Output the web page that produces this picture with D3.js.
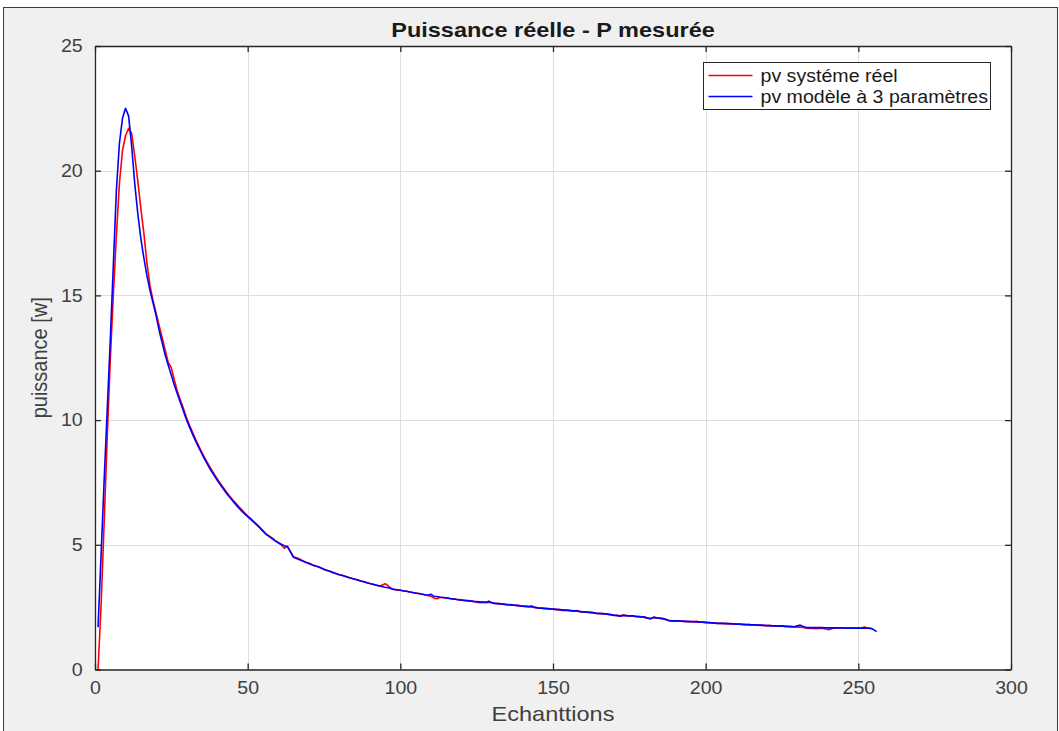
<!DOCTYPE html>
<html>
<head>
<meta charset="utf-8">
<script src="https://cdn.jsdelivr.net/npm/d3@7"></script>
<style>
  html, body { margin: 0; padding: 0; background: #ffffff; }
  svg { display: block; }
  text { font-family: "Liberation Sans", Arial, Helvetica, sans-serif; }
</style>
</head>
<body>
<svg id="chart" width="1059" height="731"></svg>
<script>
// Measured power of the PV system (red) and the 3-parameter model (blue), one value per sample.
const reelValues = [
  0, 2.6, 5.9, 9.3, 12.4, 15.0, 17.4, 19.5, 20.8, 21.4,
  21.7, 21.5, 20.6, 19.6, 18.5, 17.5, 16.3, 15.4, 14.8, 14.3,
  13.8, 13.3, 12.8, 12.3, 12.1, 11.6, 11.15, 10.8, 10.45, 10.08,
  9.78, 9.5, 9.22, 8.96, 8.71, 8.47, 8.25, 8.04, 7.84, 7.65,
  7.47, 7.3, 7.13, 6.97, 6.82, 6.68, 6.54, 6.41, 6.28, 6.16,
  6.05, 5.93, 5.82, 5.7, 5.57, 5.44, 5.36, 5.28, 5.18, 5.1,
  5.0, 4.86, 4.95, 4.74, 4.52, 4.48, 4.43, 4.36, 4.3, 4.27,
  4.21, 4.15, 4.13, 4.08, 4.01, 3.98, 3.94, 3.88, 3.85, 3.8,
  3.78, 3.74, 3.7, 3.66, 3.63, 3.6, 3.55, 3.53, 3.49, 3.45,
  3.42, 3.38, 3.35, 3.38, 3.44, 3.36, 3.24, 3.2, 3.19, 3.18,
  3.15, 3.14, 3.12, 3.09, 3.06, 3.05, 3.02, 3.0, 2.97, 2.94,
  2.86, 2.84, 2.9, 2.89, 2.87, 2.86, 2.83, 2.82, 2.8, 2.79,
  2.77, 2.75, 2.74, 2.73, 2.7, 2.68, 2.69, 2.69, 2.7, 2.68,
  2.65, 2.64, 2.63, 2.61, 2.6, 2.6, 2.58, 2.57, 2.56, 2.54,
  2.53, 2.52, 2.5, 2.49, 2.47, 2.46, 2.45, 2.44, 2.43, 2.42,
  2.4, 2.4, 2.37, 2.38, 2.37, 2.35, 2.34, 2.36, 2.32, 2.31,
  2.3, 2.29, 2.28, 2.25, 2.24, 2.24, 2.23, 2.21, 2.19, 2.17,
  2.16, 2.15, 2.18, 2.16, 2.15, 2.15, 2.13, 2.12, 2.11, 2.09,
  2.06, 2.05, 2.08, 2.07, 2.05, 2.04, 2.0, 1.96, 1.95, 1.95,
  1.94, 1.94, 1.93, 1.92, 1.92, 1.91, 1.93, 1.91, 1.9, 1.88,
  1.88, 1.87, 1.86, 1.85, 1.85, 1.84, 1.84, 1.83, 1.83, 1.82,
  1.82, 1.81, 1.8, 1.8, 1.79, 1.79, 1.78, 1.77, 1.77, 1.76,
  1.76, 1.75, 1.74, 1.74, 1.74, 1.73, 1.72, 1.72, 1.71, 1.7,
  1.7, 1.69, 1.66, 1.65, 1.65, 1.64, 1.65, 1.66, 1.64, 1.6,
  1.62, 1.66, 1.67, 1.67, 1.67, 1.66, 1.66, 1.66, 1.66, 1.66,
  1.67, 1.7, 1.66, 1.65
];

const modeleValues = [
  1.7, 4.6, 7.6, 10.4, 13.2, 16.2, 19.2, 21.1, 22.1, 22.5,
  22.2, 21.0, 19.5, 18.3, 17.3, 16.5, 15.8, 15.2, 14.7, 14.2,
  13.6, 13.1, 12.6, 12.2, 11.8, 11.4, 11.05, 10.7, 10.35, 10.0,
  9.71, 9.42, 9.15, 8.9, 8.65, 8.42, 8.19, 7.98, 7.79, 7.6,
  7.42, 7.25, 7.08, 6.93, 6.78, 6.63, 6.49, 6.36, 6.24, 6.13,
  6.02, 5.91, 5.8, 5.68, 5.55, 5.42, 5.34, 5.25, 5.16, 5.08,
  5.02, 4.96, 4.93, 4.72, 4.5, 4.45, 4.4, 4.35, 4.3, 4.25,
  4.2, 4.16, 4.12, 4.07, 4.02, 3.97, 3.93, 3.89, 3.84, 3.8,
  3.77, 3.73, 3.69, 3.66, 3.62, 3.59, 3.55, 3.52, 3.48, 3.45,
  3.42, 3.39, 3.36, 3.33, 3.3, 3.28, 3.25, 3.22, 3.2, 3.18,
  3.16, 3.14, 3.11, 3.09, 3.07, 3.05, 3.03, 3.0, 2.98, 3.02,
  2.93, 2.93, 2.9, 2.89, 2.87, 2.85, 2.83, 2.82, 2.8, 2.78,
  2.77, 2.76, 2.75, 2.73, 2.72, 2.71, 2.7, 2.69, 2.74, 2.67,
  2.65, 2.64, 2.63, 2.62, 2.6, 2.59, 2.58, 2.57, 2.55, 2.54,
  2.53, 2.52, 2.55, 2.49, 2.47, 2.46, 2.45, 2.44, 2.43, 2.42,
  2.41, 2.4, 2.39, 2.38, 2.37, 2.36, 2.35, 2.34, 2.32, 2.31,
  2.3, 2.29, 2.28, 2.26, 2.25, 2.24, 2.23, 2.22, 2.2, 2.18,
  2.17, 2.14, 2.17, 2.16, 2.15, 2.15, 2.13, 2.12, 2.11, 2.1,
  2.06, 2.03, 2.1, 2.07, 2.06, 2.04, 2.01, 1.96, 1.95, 1.95,
  1.95, 1.94, 1.93, 1.93, 1.92, 1.92, 1.91, 1.9, 1.9, 1.89,
  1.88, 1.87, 1.86, 1.85, 1.85, 1.85, 1.84, 1.84, 1.83, 1.82,
  1.82, 1.81, 1.8, 1.8, 1.79, 1.79, 1.78, 1.78, 1.77, 1.76,
  1.76, 1.75, 1.75, 1.74, 1.75, 1.73, 1.73, 1.72, 1.71, 1.75,
  1.78, 1.72, 1.68, 1.68, 1.68, 1.68, 1.68, 1.68, 1.67, 1.67,
  1.67, 1.67, 1.67, 1.67, 1.67, 1.66, 1.66, 1.66, 1.66, 1.66,
  1.66, 1.66, 1.66, 1.65, 1.6, 1.52
];

const xTicks = [0, 50, 100, 150, 200, 250, 300];
const yTicks = [0, 5, 10, 15, 20, 25];
const seriesNames = ["pv systéme réel", "pv modèle à 3 paramètres"];
const seriesColors = ["#ff0000", "#0000ff"];

const svg = d3.select("#chart");
const W = 1059, H = 731;
const stretch = 1.12; // glyphs are rendered slightly wide

// figure window background and frame
svg.append("rect")
  .attr("x", 3.5).attr("y", 7.5)
  .attr("width", W - 5).attr("height", H)
  .attr("fill", "#f0f0f0")
  .attr("stroke", "#3c3c3c").attr("stroke-width", 1);

const plot = { left: 95, top: 46, right: 1011, bottom: 669.5 };

const x = d3.scaleLinear().domain([0, 300]).range([plot.left, plot.right]);
const y = d3.scaleLinear().domain([0, 25]).range([plot.bottom, plot.top]);

// axes background
svg.append("rect")
  .attr("x", plot.left).attr("y", plot.top)
  .attr("width", plot.right - plot.left).attr("height", plot.bottom - plot.top)
  .attr("fill", "#ffffff");

// grid
const grid = svg.append("g").attr("stroke", "#dedede").attr("stroke-width", 1);
grid.selectAll("line.gx").data(xTicks.slice(1, -1)).join("line")
  .attr("x1", d => Math.round(x(d)) + 0.5).attr("x2", d => Math.round(x(d)) + 0.5)
  .attr("y1", plot.top).attr("y2", plot.bottom);
grid.selectAll("line.gy").data(yTicks.slice(1, -1)).join("line")
  .attr("y1", d => Math.round(y(d)) + 0.5).attr("y2", d => Math.round(y(d)) + 0.5)
  .attr("x1", plot.left).attr("x2", plot.right);

// series
const line = d3.line()
  .x((d, i) => x(i + 1))
  .y(d => y(d));

svg.append("clipPath").attr("id", "plotclip")
  .append("rect")
  .attr("x", plot.left).attr("y", plot.top)
  .attr("width", plot.right - plot.left).attr("height", plot.bottom - plot.top);

const lines = svg.append("g").attr("clip-path", "url(#plotclip)");
[reelValues, modeleValues].forEach((vals, k) => {
  lines.append("path")
    .datum(vals)
    .attr("d", line)
    .attr("fill", "none")
    .attr("stroke", seriesColors[k])
    .attr("stroke-width", 1.6)
    .attr("stroke-linejoin", "round");
});

// axes with inward ticks on all four sides
const tickLen = 6;
const axisColor = "#262626";
const bottomAxis = d3.axisBottom(x).tickValues(xTicks).tickSizeInner(-tickLen).tickSizeOuter(0).tickPadding(12);
const topAxis = d3.axisTop(x).tickValues(xTicks).tickSizeInner(-tickLen).tickSizeOuter(0).tickFormat("");
const leftAxis = d3.axisLeft(y).tickValues(yTicks).tickSizeInner(-tickLen).tickSizeOuter(0).tickPadding(11);
const rightAxis = d3.axisRight(y).tickValues(yTicks).tickSizeInner(-tickLen).tickSizeOuter(0).tickFormat("");

function styleAxis(g) {
  g.select(".domain").attr("stroke", axisColor).attr("stroke-width", 1.3);
  g.selectAll(".tick line").attr("stroke", axisColor).attr("stroke-width", 1.3);
  g.selectAll(".tick text")
    .attr("fill", "#404040")
    .style("font-size", "17.5px")
    .style("font-family", "\"Liberation Sans\", Arial, sans-serif");
}

svg.append("g").attr("transform", `translate(0,${plot.bottom})`).call(bottomAxis).call(styleAxis)
  .selectAll(".tick text").attr("transform", `scale(${stretch},1)`);
svg.append("g").attr("transform", `translate(0,${plot.top})`).call(topAxis).call(styleAxis);
svg.append("g").attr("transform", `translate(${plot.left},0)`).call(leftAxis).call(styleAxis)
  .selectAll(".tick text").attr("transform", `scale(${stretch},1)`);
svg.append("g").attr("transform", `translate(${plot.right},0)`).call(rightAxis).call(styleAxis);

// title and axis labels
const cx = (plot.left + plot.right) / 2;
svg.append("text")
  .attr("transform", `translate(${cx},37) scale(${stretch},1)`)
  .attr("text-anchor", "middle")
  .attr("fill", "#1a1a1a")
  .style("font-size", "21px").style("font-weight", "bold")
  .text("Puissance réelle - P mesurée");

svg.append("text")
  .attr("transform", `translate(${cx},721) scale(${stretch},1)`)
  .attr("text-anchor", "middle")
  .attr("fill", "#404040")
  .style("font-size", "21px")
  .text("Echanttions");

svg.append("text")
  .attr("transform", `translate(47,${(plot.top + plot.bottom) / 2}) scale(${stretch},1) rotate(-90)`)
  .attr("text-anchor", "middle")
  .attr("fill", "#404040")
  .style("font-size", "20px")
  .text("puissance [w]");

// legend
const lg = svg.append("g").attr("transform", "translate(703.5,62.5)");
lg.append("rect")
  .attr("width", 287).attr("height", 47)
  .attr("fill", "#ffffff").attr("stroke", "#262626").attr("stroke-width", 1);
seriesNames.forEach((name, k) => {
  const yy = 13 + k * 21;
  lg.append("line")
    .attr("x1", 5).attr("x2", 49).attr("y1", yy).attr("y2", yy)
    .attr("stroke", seriesColors[k]).attr("stroke-width", 1.5);
  lg.append("text")
    .attr("transform", `translate(57,${yy + 6}) scale(${stretch},1)`)
    .attr("fill", "#1a1a1a")
    .style("font-size", "17.5px")
    .text(name);
});
</script>
</body>
</html>
